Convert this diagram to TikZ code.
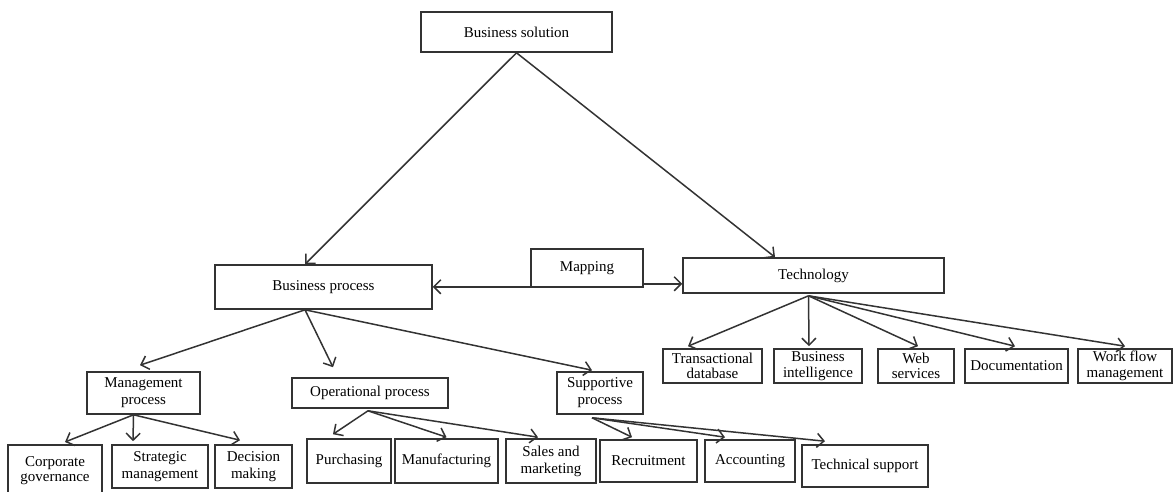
\documentclass[tikz,border=0pt]{standalone}
\usepackage{fontspec}
\setmainfont{Liberation Serif}
\usetikzlibrary{arrows.meta}
\begin{document}
\begin{tikzpicture}[x=1pt,y=-1pt,
  box/.style={draw=black!80, line width=1.6pt, fill=white, inner sep=1pt, align=center,
    font=\fontsize{15}{15.5}\selectfont, text=black},
  lowbox/.style={box, font=\fontsize{15}{17}\selectfont},
  arr/.style={draw=black!80, line width=1.5pt, -{Straight Barb[length=7pt,width=14pt]}}]
\useasboundingbox (0,0) rectangle (1174,491);
% top
\node[box, minimum width=191pt, minimum height=40pt] (bs) at (516.5,32) {Business solution};
\node[box, minimum width=217pt, minimum height=44pt] (bp) at (323.5,287) {Business process};
\node[box, minimum width=112pt, minimum height=38pt] (map) at (587,268) {Mapping};
\node[box, minimum width=261pt, minimum height=35pt] (tech) at (813.5,275.5) {Technology};
% technology children
\node[box, minimum width=99pt, minimum height=34pt] (td) at (712.5,366) {Transactional\\database};
\node[box, minimum width=88pt, minimum height=34pt] (bi) at (818,366) {Business\\intelligence};
\node[box, minimum width=76pt, minimum height=34pt] (ws) at (916,366) {Web\\services};
\node[box, minimum width=103pt, minimum height=34pt] (doc) at (1016.5,366) {Documentation};
\node[box, minimum width=94pt, minimum height=34pt] (wf) at (1125,366) {Work flow\\management};
% process level
\node[lowbox, minimum width=113pt, minimum height=42pt] (mp) at (143.5,393) {Management\\process};
\node[box, minimum width=156pt, minimum height=30pt] (op) at (370,393) {Operational process};
\node[lowbox, minimum width=86pt, minimum height=42pt] (sp) at (600,393) {Supportive\\process};
% management children
\node[lowbox, minimum width=94pt, minimum height=52pt, anchor=north] (cg) at (55,444) {\raisebox{2pt}{\shortstack{Corporate\\[1pt]governance}}};
\node[lowbox, minimum width=96pt, minimum height=43pt] (sm) at (160,466.5) {Strategic\\management};
\node[lowbox, minimum width=77pt, minimum height=43pt] (dm) at (253.5,466.5) {Decision\\making};
% operational children
\node[box, minimum width=84pt, minimum height=44pt] (pur) at (349,461) {Purchasing};
\node[box, minimum width=103pt, minimum height=44pt] (man) at (446.5,461) {Manufacturing};
\node[lowbox, minimum width=90pt, minimum height=44pt] (sal) at (551,461) {Sales and\\marketing};
% supportive children
\node[box, minimum width=97pt, minimum height=42pt] (rec) at (648.5,461) {Recruitment};
\node[box, minimum width=90pt, minimum height=42pt] (acc) at (750,461) {Accounting};
\node[box, minimum width=126pt, minimum height=42pt] (ts) at (865,466) {Technical support};
% connectors
\draw[arr] (bs.south) -- ([xshift=-18.5pt]bp.north);
\draw[arr] (bs.south) -- ([xshift=-38.5pt]tech.north);
\draw[arr] ([yshift=1pt]map.south west) -- ([yshift=1pt]map.south west -| bp.east);
\draw[arr] ([yshift=4pt]map.south east) -- ([yshift=4pt]map.south east -| tech.west);
% technology
\coordinate (tsrc) at ([xshift=-5pt,yshift=-2pt]tech.south);
\draw[arr] (tsrc) -- ([xshift=-24.5pt,yshift=2pt]td.north);
\draw[arr] (tsrc) -- ([xshift=-9pt,yshift=2pt]bi.north);
\draw[arr] (tsrc) -- ([xshift=2pt,yshift=2pt]ws.north);
\draw[arr] (tsrc) -- ([xshift=-1.5pt,yshift=2pt]doc.north);
\draw[arr] (tsrc) -- ([yshift=2pt]wf.north);
% business process
\coordinate (bsrc) at ([xshift=-18.5pt]bp.south);
\draw[arr] (bsrc) -- ([xshift=-3.5pt,yshift=6pt]mp.north);
\draw[arr] (bsrc) -- ([xshift=-37pt,yshift=10pt]op.north);
\draw[arr] (bsrc) -- ([xshift=-8pt,yshift=1pt]sp.north);
% management
\coordinate (msrc) at ([xshift=-10pt]mp.south);
\draw[arr] (msrc) -- ([xshift=10pt,yshift=2pt]cg.north);
\draw[arr] (msrc) -- ([xshift=-27pt,yshift=3pt]sm.north);
\draw[arr] (msrc) -- ([xshift=-13.5pt,yshift=4pt]dm.north);
% operational
\coordinate (osrc) at ([xshift=-2pt,yshift=-2pt]op.south);
\draw[arr] (osrc) -- ([xshift=-16pt,yshift=4pt]pur.north);
\draw[arr] (osrc) -- ([yshift=1pt]man.north);
\draw[arr] (osrc) -- ([xshift=-13pt,yshift=1pt]sal.north);
% supportive
\coordinate (ssrc) at ([xshift=-8pt,yshift=-3pt]sp.south);
\draw[arr] (ssrc) -- ([xshift=-16.5pt,yshift=2pt]rec.north);
\draw[arr] (ssrc) -- ([xshift=-25pt,yshift=2pt]acc.north);
\draw[arr] (ssrc) -- ([xshift=-40pt,yshift=3pt]ts.north);
\end{tikzpicture}
\end{document}
